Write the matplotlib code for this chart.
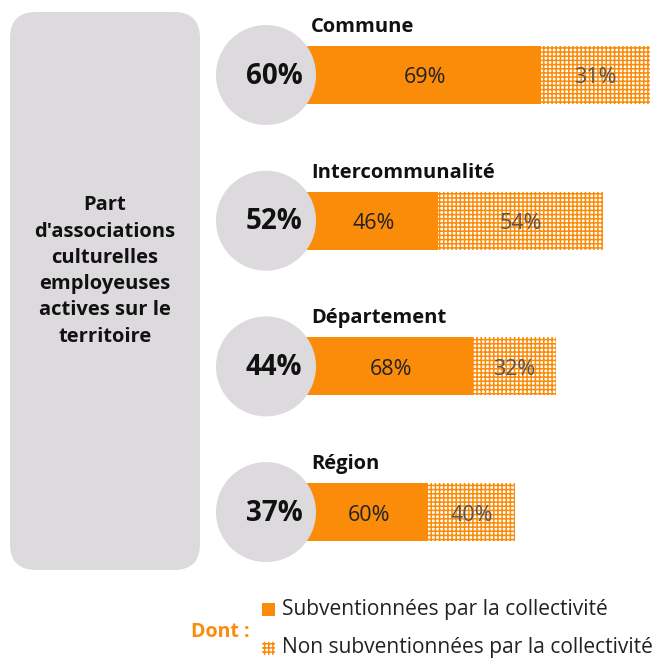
import matplotlib
matplotlib.use("Agg")
import matplotlib.pyplot as plt
from matplotlib.patches import Circle, FancyBboxPatch, Rectangle

# data
categories = ["Commune", "Intercommunalité", "Département", "Région"]
totals = [60, 52, 44, 37]          # part d'associations employeuses actives
subventionnees = [69, 46, 68, 60]  # dont subventionnées (%)
non_subv = [31, 54, 32, 40]        # dont non subventionnées (%)

ORANGE = "#FB8C0A"
GREY = "#DCDADD"
plt.rcParams["font.family"] = ["Open Sans", "DejaVu Sans"]
plt.rcParams["hatch.linewidth"] = 1.1
plt.rcParams["hatch.color"] = ORANGE

W, H = 659, 661
fig = plt.figure(figsize=(W / 100, H / 100), dpi=100)

# bar axes: x in %, starts hidden below circles
x0, px_per_pct = 297.5, 5.875
bar_ax = fig.add_axes([x0 / W, 0, (W - x0) / W, 1], zorder=1)
bar_ax.set_xlim(0, (W - x0) / px_per_pct)
# category i centered at y = 75 + 145.7*i pixels from top
y_first, y_step = 75, 145.7
bar_ax.set_ylim((H - y_first) / y_step, -y_first / y_step)
bar_ax.axis("off")
bar_ax.patch.set_alpha(0)

bar_h = 58 / y_step
for i, (tot, s, n) in enumerate(zip(totals, subventionnees, non_subv)):
    ls = tot * s / 100
    ln = tot * n / 100
    bar_ax.barh(i, ls, height=bar_h, color=ORANGE, edgecolor="none")
    bar_ax.barh(i, ln, left=ls, height=bar_h, facecolor="white",
                edgecolor=ORANGE, hatch="++++", linewidth=0)
    bar_ax.text(ls / 2 + 1, i + 0.02, f"{s}%", ha="center", va="center",
                fontsize=15.5, color="#222222")
    bar_ax.text(ls + ln / 2, i + 0.02, f"{n}%", ha="center", va="center",
                fontsize=15.5, color="#555555")

# overlay in pixel coords
fg = fig.add_axes([0, 0, 1, 1], zorder=2)
fg.set_xlim(0, W)
fg.set_ylim(H, 0)
fg.axis("off")
fg.patch.set_alpha(0)

box = FancyBboxPatch((10, 12), 190, 558, boxstyle="round,pad=0,rounding_size=26",
                     facecolor=GREY, edgecolor="none")
fg.add_patch(box)
fg.text(105, 271, "Part\nd'associations\nculturelles\nemployeuses\nactives sur le\nterritoire",
        ha="center", va="center", fontsize=14.5, fontweight="bold",
        linespacing=1.42, color="#111111")

for i, (cat, tot) in enumerate(zip(categories, totals)):
    yc = y_first + y_step * i
    fg.add_patch(Circle((266, yc), 50, facecolor=GREY, edgecolor="none"))
    fg.text(274, yc + 1, f"{tot}%", ha="center", va="center", fontsize=20,
            fontweight="bold", color="#111111")
    fg.text(311, yc - 48, cat, ha="left", va="center", fontsize=14.5,
            fontweight="bold", color="#111111")

# legend
fg.add_patch(Rectangle((262, 603), 13, 13, facecolor=ORANGE, edgecolor="none"))
fg.add_patch(Rectangle((262, 642), 13, 13, facecolor="white", edgecolor=ORANGE,
                       hatch="++++", linewidth=0))
fg.text(282, 609, "Subventionnées par la collectivité", ha="left", va="center",
        fontsize=15.1, color="#222222")
fg.text(282, 648, "Non subventionnées par la collectivité", ha="left", va="center",
        fontsize=15.1, color="#222222")
fg.text(220, 632, "Dont :", ha="center", va="center", fontsize=14,
        fontweight="bold", color=ORANGE)

fig.savefig("out.png", dpi=100)
